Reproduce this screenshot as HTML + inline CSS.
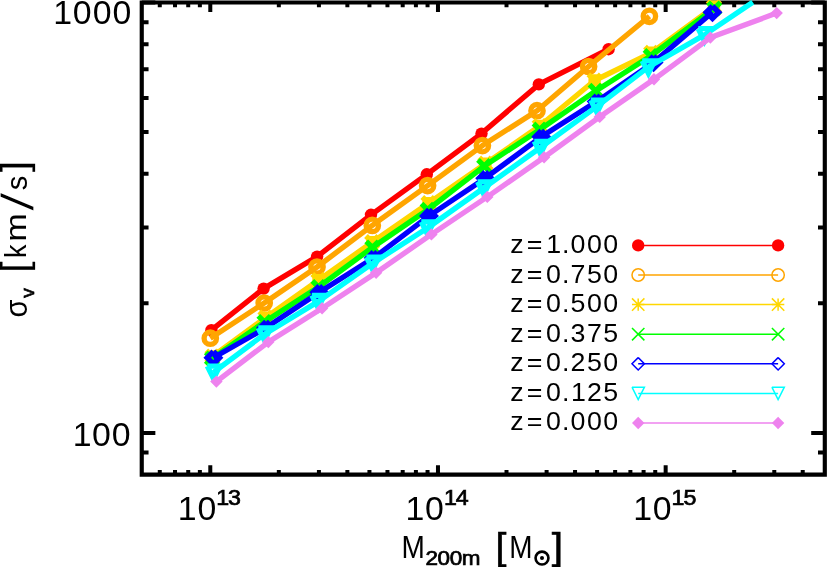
<!DOCTYPE html>
<html lang="en"><head><meta charset="utf-8"><title>sigma_v vs M200m</title>
<style>
html,body{margin:0;padding:0;background:#fff;}
body{width:827px;height:567px;overflow:hidden;}
svg{display:block;will-change:transform;}
text{font-family:"Liberation Sans",sans-serif;fill:#000;}
</style></head><body>
<svg width="827" height="567" viewBox="0 0 827 567" role="img" aria-label="Velocity dispersion versus halo mass for seven redshifts">
<rect width="827" height="567" fill="#fff"/>
<g fill="none" stroke="#000" stroke-width="4.15" stroke-linecap="butt">
<path d="M141.75 2.5H824.8V474.6H141.75Z" stroke-linejoin="miter"/>
<path stroke-width="4" d="M159.78 474.6v-4.7M159.78 2.5v4.7M175.02 474.6v-4.7M175.02 2.5v4.7M188.22 474.6v-4.7M188.22 2.5v4.7M199.87 474.6v-4.7M199.87 2.5v4.7M210.29 474.6v-9.4M210.29 2.5v9.4M278.83 474.6v-4.7M278.83 2.5v4.7M318.92 474.6v-4.7M318.92 2.5v4.7M347.37 474.6v-4.7M347.37 2.5v4.7M369.43 474.6v-4.7M369.43 2.5v4.7M387.46 474.6v-4.7M387.46 2.5v4.7M402.7 474.6v-4.7M402.7 2.5v4.7M415.91 474.6v-4.7M415.91 2.5v4.7M427.55 474.6v-4.7M427.55 2.5v4.7M437.97 474.6v-9.4M437.97 2.5v9.4M506.51 474.6v-4.7M506.51 2.5v4.7M546.61 474.6v-4.7M546.61 2.5v4.7M575.05 474.6v-4.7M575.05 2.5v4.7M597.12 474.6v-4.7M597.12 2.5v4.7M615.14 474.6v-4.7M615.14 2.5v4.7M630.39 474.6v-4.7M630.39 2.5v4.7M643.59 474.6v-4.7M643.59 2.5v4.7M655.24 474.6v-4.7M655.24 2.5v4.7M665.66 474.6v-9.4M665.66 2.5v9.4M734.2 474.6v-4.7M734.2 2.5v4.7M774.29 474.6v-4.7M774.29 2.5v4.7M802.74 474.6v-4.7M802.74 2.5v4.7M141.75 452.58h6.8M824.8 452.58h-6.8M141.75 432.89h13.6M824.8 432.89h-13.6M141.75 303.33h6.8M824.8 303.33h-6.8M141.75 227.54h6.8M824.8 227.54h-6.8M141.75 173.77h6.8M824.8 173.77h-6.8M141.75 132.06h6.8M824.8 132.06h-6.8M141.75 97.98h6.8M824.8 97.98h-6.8M141.75 69.17h6.8M824.8 69.17h-6.8M141.75 44.21h6.8M824.8 44.21h-6.8M141.75 22.19h6.8M824.8 22.19h-6.8M141.75 2.5h13.6M824.8 2.5h-13.6"/>
</g>
<g stroke-linecap="butt" stroke-linejoin="round">
<polyline fill="none" stroke="#ff0000" stroke-width="5.33" points="211.4,330.2 263.6,288.6 317.1,256.6 371,214.8 426.8,174.3 481.5,133.6 538.8,84.4 608.6,49.2"/>
<circle cx="211.4" cy="330.2" r="6.2" fill="#ff0000"/>
<circle cx="263.6" cy="288.6" r="6.2" fill="#ff0000"/>
<circle cx="317.1" cy="256.6" r="6.2" fill="#ff0000"/>
<circle cx="371" cy="214.8" r="6.2" fill="#ff0000"/>
<circle cx="426.8" cy="174.3" r="6.2" fill="#ff0000"/>
<circle cx="481.5" cy="133.6" r="6.2" fill="#ff0000"/>
<circle cx="538.8" cy="84.4" r="6.2" fill="#ff0000"/>
<circle cx="608.6" cy="49.2" r="6.2" fill="#ff0000"/>
<polyline fill="none" stroke="#ffa500" stroke-width="5.33" points="210.3,338.2 264.2,303 317,267 372.3,225.4 427.6,185.6 482.4,145.6 537,110.7 588.6,66.5 649.4,16.3"/>
<circle cx="210.3" cy="338.2" r="6.2" fill="none" stroke="#ffa500" stroke-width="5.33"/>
<circle cx="264.2" cy="303" r="6.2" fill="none" stroke="#ffa500" stroke-width="5.33"/>
<circle cx="317" cy="267" r="6.2" fill="none" stroke="#ffa500" stroke-width="5.33"/>
<circle cx="372.3" cy="225.4" r="6.2" fill="none" stroke="#ffa500" stroke-width="5.33"/>
<circle cx="427.6" cy="185.6" r="6.2" fill="none" stroke="#ffa500" stroke-width="5.33"/>
<circle cx="482.4" cy="145.6" r="6.2" fill="none" stroke="#ffa500" stroke-width="5.33"/>
<circle cx="537" cy="110.7" r="6.2" fill="none" stroke="#ffa500" stroke-width="5.33"/>
<circle cx="588.6" cy="66.5" r="6.2" fill="none" stroke="#ffa500" stroke-width="5.33"/>
<circle cx="649.4" cy="16.3" r="6.2" fill="none" stroke="#ffa500" stroke-width="5.33"/>
<polyline fill="none" stroke="#ffd700" stroke-width="5.33" points="212.5,356.5 265.5,317.7 318.5,280.2 372.2,242.2 428.5,203.2 485.4,163.7 539.7,126 594.6,80.5 651.2,52.8 713.9,6.8"/>
<path d="M206.3 356.5H218.7M212.5 350.3V362.7M206.3 350.3L218.7 362.7M206.3 362.7L218.7 350.3" fill="none" stroke="#ffd700" stroke-width="5.33"/>
<path d="M259.3 317.7H271.7M265.5 311.5V323.9M259.3 311.5L271.7 323.9M259.3 323.9L271.7 311.5" fill="none" stroke="#ffd700" stroke-width="5.33"/>
<path d="M312.3 280.2H324.7M318.5 274V286.4M312.3 274L324.7 286.4M312.3 286.4L324.7 274" fill="none" stroke="#ffd700" stroke-width="5.33"/>
<path d="M366 242.2H378.4M372.2 236V248.4M366 236L378.4 248.4M366 248.4L378.4 236" fill="none" stroke="#ffd700" stroke-width="5.33"/>
<path d="M422.3 203.2H434.7M428.5 197V209.4M422.3 197L434.7 209.4M422.3 209.4L434.7 197" fill="none" stroke="#ffd700" stroke-width="5.33"/>
<path d="M479.2 163.7H491.6M485.4 157.5V169.9M479.2 157.5L491.6 169.9M479.2 169.9L491.6 157.5" fill="none" stroke="#ffd700" stroke-width="5.33"/>
<path d="M533.5 126H545.9M539.7 119.8V132.2M533.5 119.8L545.9 132.2M533.5 132.2L545.9 119.8" fill="none" stroke="#ffd700" stroke-width="5.33"/>
<path d="M588.4 80.5H600.8M594.6 74.3V86.7M588.4 74.3L600.8 86.7M588.4 86.7L600.8 74.3" fill="none" stroke="#ffd700" stroke-width="5.33"/>
<path d="M645 52.8H657.4M651.2 46.6V59M645 46.6L657.4 59M645 59L657.4 46.6" fill="none" stroke="#ffd700" stroke-width="5.33"/>
<path d="M707.7 6.8H720.1M713.9 0.6V13M707.7 0.6L720.1 13M707.7 13L720.1 0.6" fill="none" stroke="#ffd700" stroke-width="5.33"/>
<polyline fill="none" stroke="#00ff00" stroke-width="5.33" points="212,358.5 264.5,322 318.5,287 372.4,247.5 427.7,209.8 484.2,166.1 539.7,129.7 595.7,90.9 650.7,56 714.3,8.5"/>
<path d="M205.8 352.3L218.2 364.7M205.8 364.7L218.2 352.3" fill="none" stroke="#00ff00" stroke-width="5.33"/>
<path d="M258.3 315.8L270.7 328.2M258.3 328.2L270.7 315.8" fill="none" stroke="#00ff00" stroke-width="5.33"/>
<path d="M312.3 280.8L324.7 293.2M312.3 293.2L324.7 280.8" fill="none" stroke="#00ff00" stroke-width="5.33"/>
<path d="M366.2 241.3L378.6 253.7M366.2 253.7L378.6 241.3" fill="none" stroke="#00ff00" stroke-width="5.33"/>
<path d="M421.5 203.6L433.9 216M421.5 216L433.9 203.6" fill="none" stroke="#00ff00" stroke-width="5.33"/>
<path d="M478 159.9L490.4 172.3M478 172.3L490.4 159.9" fill="none" stroke="#00ff00" stroke-width="5.33"/>
<path d="M533.5 123.5L545.9 135.9M533.5 135.9L545.9 123.5" fill="none" stroke="#00ff00" stroke-width="5.33"/>
<path d="M589.5 84.7L601.9 97.1M589.5 97.1L601.9 84.7" fill="none" stroke="#00ff00" stroke-width="5.33"/>
<path d="M644.5 49.8L656.9 62.2M644.5 62.2L656.9 49.8" fill="none" stroke="#00ff00" stroke-width="5.33"/>
<path d="M708.1 2.3L720.5 14.7M708.1 14.7L720.5 2.3" fill="none" stroke="#00ff00" stroke-width="5.33"/>
<polyline fill="none" stroke="#0000ff" stroke-width="5.33" points="213.4,357.7 266,327.8 319.3,292.2 373.5,258 429,215.9 485.2,178.2 541.3,136.8 596.6,101.6 653.6,62.4 712.5,12.3"/>
<path d="M213.4 351.5L219.6 357.7L213.4 363.9L207.2 357.7L213.4 351.5" fill="none" stroke="#0000ff" stroke-width="5.33" stroke-linejoin="miter"/>
<path d="M266 321.6L272.2 327.8L266 334L259.8 327.8L266 321.6" fill="none" stroke="#0000ff" stroke-width="5.33" stroke-linejoin="miter"/>
<path d="M319.3 286L325.5 292.2L319.3 298.4L313.1 292.2L319.3 286" fill="none" stroke="#0000ff" stroke-width="5.33" stroke-linejoin="miter"/>
<path d="M373.5 251.8L379.7 258L373.5 264.2L367.3 258L373.5 251.8" fill="none" stroke="#0000ff" stroke-width="5.33" stroke-linejoin="miter"/>
<path d="M429 209.7L435.2 215.9L429 222.1L422.8 215.9L429 209.7" fill="none" stroke="#0000ff" stroke-width="5.33" stroke-linejoin="miter"/>
<path d="M485.2 172L491.4 178.2L485.2 184.4L479 178.2L485.2 172" fill="none" stroke="#0000ff" stroke-width="5.33" stroke-linejoin="miter"/>
<path d="M541.3 130.6L547.5 136.8L541.3 143L535.1 136.8L541.3 130.6" fill="none" stroke="#0000ff" stroke-width="5.33" stroke-linejoin="miter"/>
<path d="M596.6 95.4L602.8 101.6L596.6 107.8L590.4 101.6L596.6 95.4" fill="none" stroke="#0000ff" stroke-width="5.33" stroke-linejoin="miter"/>
<path d="M653.6 56.2L659.8 62.4L653.6 68.6L647.4 62.4L653.6 56.2" fill="none" stroke="#0000ff" stroke-width="5.33" stroke-linejoin="miter"/>
<path d="M712.5 6.1L718.7 12.3L712.5 18.5L706.3 12.3L712.5 6.1" fill="none" stroke="#0000ff" stroke-width="5.33" stroke-linejoin="miter"/>
<polyline fill="none" stroke="#00ffff" stroke-width="5.33" points="213.5,372.3 264.5,334.2 318.1,301.6 372.6,263.3 427.5,228 483.8,188 540.5,147.5 597,106.3 648.4,67 704.5,34.9 752.8,2.3"/>
<path d="M207.3 366.1L213.5 378.5L219.7 366.1L207.3 366.1" fill="none" stroke="#00ffff" stroke-width="5.33" stroke-linejoin="miter"/>
<path d="M258.3 328L264.5 340.4L270.7 328L258.3 328" fill="none" stroke="#00ffff" stroke-width="5.33" stroke-linejoin="miter"/>
<path d="M311.9 295.4L318.1 307.8L324.3 295.4L311.9 295.4" fill="none" stroke="#00ffff" stroke-width="5.33" stroke-linejoin="miter"/>
<path d="M366.4 257.1L372.6 269.5L378.8 257.1L366.4 257.1" fill="none" stroke="#00ffff" stroke-width="5.33" stroke-linejoin="miter"/>
<path d="M421.3 221.8L427.5 234.2L433.7 221.8L421.3 221.8" fill="none" stroke="#00ffff" stroke-width="5.33" stroke-linejoin="miter"/>
<path d="M477.6 181.8L483.8 194.2L490 181.8L477.6 181.8" fill="none" stroke="#00ffff" stroke-width="5.33" stroke-linejoin="miter"/>
<path d="M534.3 141.3L540.5 153.7L546.7 141.3L534.3 141.3" fill="none" stroke="#00ffff" stroke-width="5.33" stroke-linejoin="miter"/>
<path d="M590.8 100.1L597 112.5L603.2 100.1L590.8 100.1" fill="none" stroke="#00ffff" stroke-width="5.33" stroke-linejoin="miter"/>
<path d="M642.2 60.8L648.4 73.2L654.6 60.8L642.2 60.8" fill="none" stroke="#00ffff" stroke-width="5.33" stroke-linejoin="miter"/>
<path d="M698.3 28.7L704.5 41.1L710.7 28.7L698.3 28.7" fill="none" stroke="#00ffff" stroke-width="5.33" stroke-linejoin="miter"/>
<polyline fill="none" stroke="#ee82ee" stroke-width="5.33" points="216.4,381.6 268.3,342.1 322.1,308.3 376.1,272.8 431.4,234.4 487.3,196.9 544.1,157.2 599.7,116.9 654,79.3 710.4,37.6 776.7,13.1"/>
<path d="M210.2 381.6L216.4 375.4L222.6 381.6L216.4 387.8Z" fill="#ee82ee"/>
<path d="M262.1 342.1L268.3 335.9L274.5 342.1L268.3 348.3Z" fill="#ee82ee"/>
<path d="M315.9 308.3L322.1 302.1L328.3 308.3L322.1 314.5Z" fill="#ee82ee"/>
<path d="M369.9 272.8L376.1 266.6L382.3 272.8L376.1 279Z" fill="#ee82ee"/>
<path d="M425.2 234.4L431.4 228.2L437.6 234.4L431.4 240.6Z" fill="#ee82ee"/>
<path d="M481.1 196.9L487.3 190.7L493.5 196.9L487.3 203.1Z" fill="#ee82ee"/>
<path d="M537.9 157.2L544.1 151L550.3 157.2L544.1 163.4Z" fill="#ee82ee"/>
<path d="M593.5 116.9L599.7 110.7L605.9 116.9L599.7 123.1Z" fill="#ee82ee"/>
<path d="M647.8 79.3L654 73.1L660.2 79.3L654 85.5Z" fill="#ee82ee"/>
<path d="M704.2 37.6L710.4 31.4L716.6 37.6L710.4 43.8Z" fill="#ee82ee"/>
<path d="M770.5 13.1L776.7 6.9L782.9 13.1L776.7 19.3Z" fill="#ee82ee"/>
</g>
<g>
<path d="M638.2 245.4H778.1" stroke="#ff0000" stroke-width="1.5" fill="none"/>
<circle cx="638.2" cy="245.4" r="6.2" fill="#ff0000"/>
<circle cx="778.1" cy="245.4" r="6.2" fill="#ff0000"/>
<text transform="scale(1.03 1)" x="495.43 511.34 530.37 545.57 553.9 569.82 585.74" y="253.15" font-size="26">z=1.000</text>
<path d="M638.2 275H778.1" stroke="#ffa500" stroke-width="1.5" fill="none"/>
<circle cx="638.2" cy="275" r="6.2" fill="none" stroke="#ffa500" stroke-width="1.5"/>
<circle cx="778.1" cy="275" r="6.2" fill="none" stroke="#ffa500" stroke-width="1.5"/>
<text transform="scale(1.03 1)" x="495.43 511.34 530.01 545.57 553.89 569.85 585.74" y="282.7" font-size="26">z=0.750</text>
<path d="M638.2 304.6H778.1" stroke="#ffd700" stroke-width="1.5" fill="none"/>
<path d="M632 304.6H644.4M638.2 298.4V310.8M632 298.4L644.4 310.8M632 310.8L644.4 298.4" fill="none" stroke="#ffd700" stroke-width="1.5"/>
<path d="M771.9 304.6H784.3M778.1 298.4V310.8M771.9 298.4L784.3 310.8M771.9 310.8L784.3 298.4" fill="none" stroke="#ffd700" stroke-width="1.5"/>
<text transform="scale(1.03 1)" x="495.43 511.34 530.01 545.57 553.92 569.82 585.74" y="312.25" font-size="26">z=0.500</text>
<path d="M638.2 334.2H778.1" stroke="#00ff00" stroke-width="1.5" fill="none"/>
<path d="M632 328L644.4 340.4M632 340.4L644.4 328" fill="none" stroke="#00ff00" stroke-width="1.5"/>
<path d="M771.9 328L784.3 340.4M771.9 340.4L784.3 328" fill="none" stroke="#00ff00" stroke-width="1.5"/>
<text transform="scale(1.03 1)" x="495.43 511.34 530.01 545.57 553.98 569.81 585.77" y="341.8" font-size="26">z=0.375</text>
<path d="M638.2 363.8H778.1" stroke="#0000ff" stroke-width="1.5" fill="none"/>
<path d="M638.2 357.6L644.4 363.8L638.2 370L632 363.8L638.2 357.6" fill="none" stroke="#0000ff" stroke-width="1.5" stroke-linejoin="miter"/>
<path d="M778.1 357.6L784.3 363.8L778.1 370L771.9 363.8L778.1 357.6" fill="none" stroke="#0000ff" stroke-width="1.5" stroke-linejoin="miter"/>
<text transform="scale(1.03 1)" x="495.43 511.34 530.01 545.57 553.9 569.85 585.74" y="371.35" font-size="26">z=0.250</text>
<path d="M638.2 393.4H778.1" stroke="#00ffff" stroke-width="1.5" fill="none"/>
<path d="M632 387.2L638.2 399.6L644.4 387.2L632 387.2" fill="none" stroke="#00ffff" stroke-width="1.5" stroke-linejoin="miter"/>
<path d="M771.9 387.2L778.1 399.6L784.3 387.2L771.9 387.2" fill="none" stroke="#00ffff" stroke-width="1.5" stroke-linejoin="miter"/>
<text transform="scale(1.03 1)" x="495.43 511.34 530.01 545.57 554.25 569.82 585.77" y="400.9" font-size="26">z=0.125</text>
<path d="M638.2 423H778.1" stroke="#ee82ee" stroke-width="1.5" fill="none"/>
<path d="M632 423L638.2 416.8L644.4 423L638.2 429.2Z" fill="#ee82ee"/>
<path d="M771.9 423L778.1 416.8L784.3 423L778.1 429.2Z" fill="#ee82ee"/>
<text transform="scale(1.03 1)" x="495.43 511.34 530.01 545.57 553.9 569.82 585.74" y="430.45" font-size="26">z=0.000</text>
</g>
<text transform="scale(1.02 1)" x="52.14 71.29 90.84 110.4" y="23.9" font-size="33.2">1000</text>
<text transform="scale(1.02 1)" x="71.35 90.3 109.67" y="445.7" font-size="33.2">100</text>
<text transform="scale(1.02 1)" x="174.36 193.55" y="520.05" font-size="33.2">10</text>
<text transform="scale(1.08 1)" x="200.22 211.21" y="504.9" font-size="21.5" stroke="#000" stroke-width="0.7">13</text>
<text transform="scale(1.02 1)" x="397.58 416.77" y="520.05" font-size="33.2">10</text>
<text transform="scale(1.08 1)" x="411.04 422.03" y="504.9" font-size="21.5" stroke="#000" stroke-width="0.7">14</text>
<text transform="scale(1.02 1)" x="620.8 639.99" y="520.05" font-size="33.2">10</text>
<text transform="scale(1.08 1)" x="621.86 632.8" y="504.9" font-size="21.5" stroke="#000" stroke-width="0.7">15</text>
<text transform="translate(401.55 557.7) scale(0.897 1)" font-size="31.25">M</text>
<text transform="scale(1.08 1)" x="393.98 405.16 416.35 427.45" y="565.5" font-size="20.8" stroke="#000" stroke-width="0.7">200m</text>
<text transform="translate(495.42 558.9) scale(1.048 1)" font-size="37.4" stroke="#000" stroke-width="0.6">[</text>
<text transform="translate(509.21 557.7) scale(0.894 1)" font-size="31.25">M</text>
<circle cx="542" cy="558.1" r="6.45" fill="none" stroke="#000" stroke-width="2.6"/>
<circle cx="542" cy="558.1" r="2" fill="#000"/>
<text transform="translate(551.67 558.9) scale(1.088 1)" font-size="37.4" stroke="#000" stroke-width="0.6">]</text>
<g transform="rotate(-90)">
<text transform="translate(-317.53 26.6) scale(0.960 1)" font-size="30.5">&#963;</text>
<text transform="translate(-297.86 34) scale(1.028 1)" font-size="18.7" stroke="#000" stroke-width="0.7">v</text>
<text transform="translate(-272.38 26.75) scale(1.037 1)" font-size="37.8" stroke="#000" stroke-width="0.25">[</text>
<text transform="translate(-258.01 25.9) scale(0.930 1)" font-size="29">k</text>
<text transform="translate(-241.87 25.9) scale(1.165 1)" font-size="29.5">m</text>
<text transform="translate(-211.7 34) scale(1.535 1)" font-size="46.4" stroke="#fff" stroke-width="1.2">/</text>
<text transform="translate(-190.22 26.7) scale(0.971 1)" font-size="30">s</text>
<text transform="translate(-172.01 26.75) scale(1.024 1)" font-size="37.8" stroke="#000" stroke-width="0.25">]</text>
</g>
</svg>
</body></html>
